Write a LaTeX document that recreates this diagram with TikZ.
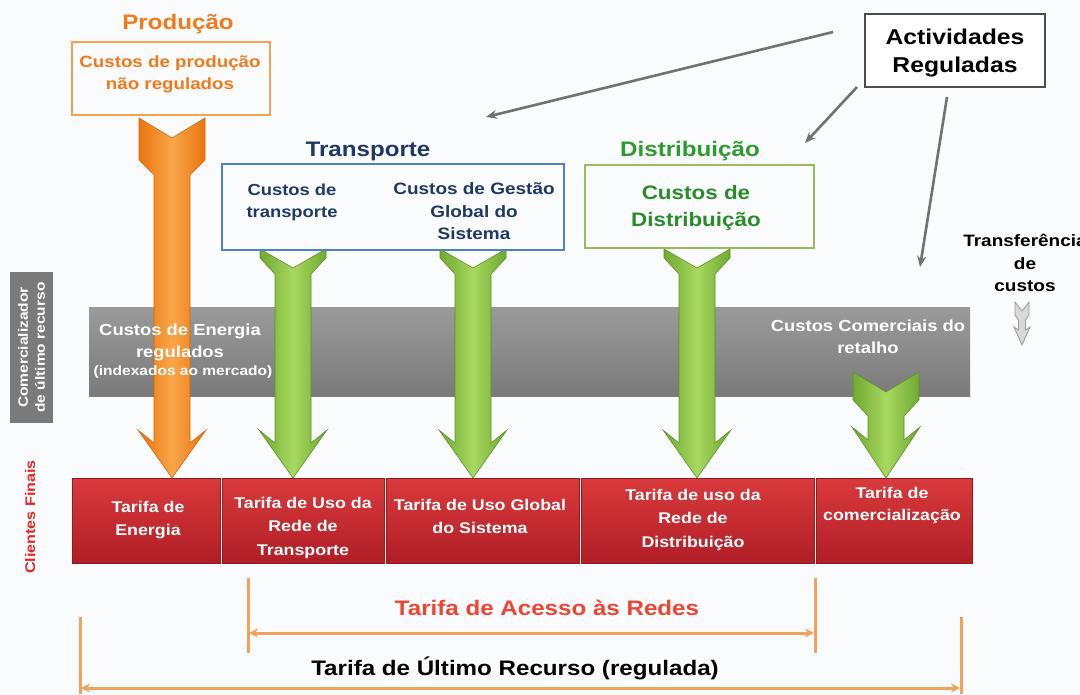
\documentclass[tikz,border=0pt]{standalone}
\usepackage{fontspec}
\setmainfont{Liberation Sans}[FakeStretch=1.15]
\usetikzlibrary{arrows.meta}
\definecolor{bgc}{HTML}{FAFBFC}
\definecolor{orT}{HTML}{F07A1A}
\definecolor{orB}{HTML}{F5A250}
\definecolor{orD}{HTML}{E8740C}
\definecolor{orL}{HTML}{F9A64A}
\definecolor{grD}{HTML}{6FA830}
\definecolor{grL}{HTML}{A8D860}
\definecolor{grT}{HTML}{2E9B2E}
\definecolor{grBox}{HTML}{9BBB59}
\definecolor{nav}{HTML}{1F3864}
\definecolor{blB}{HTML}{4F81BD}
\definecolor{rdT}{HTML}{D93A3C}
\definecolor{rdB}{HTML}{B01E26}
\definecolor{bandT}{HTML}{9A9A9A}
\definecolor{bandB}{HTML}{7A7A7A}
\definecolor{conn}{HTML}{727272}
\definecolor{brk}{HTML}{F2A25A}
\definecolor{acc}{HTML}{EE4433}
\definecolor{cfr}{HTML}{E8262A}
\newcommand\fsz[2]{\fontsize{#1}{#2}\selectfont\bfseries}
\newcommand\bigarrow[8]{%
  \shade[#1] ({#2-33},#3) -- (#2,{#3+#4}) -- ({#2+33},#3) -- ({#2+33},#5)
   -- ({#2+18},#6) -- ({#2+18},{#7+13}) -- ({#2+34},#7) -- (#2,#8)
   -- ({#2-34},#7) -- ({#2-18},{#7+13}) -- ({#2-18},#6) -- ({#2-33},#5) -- cycle;}
\begin{document}
\begin{tikzpicture}[x=1pt,y=-1pt,
  txt/.style={inner sep=0, align=center, anchor=base},
  orarrow/.style={left color=orD, right color=orD, middle color=orL, draw=orD!90!black, line width=0.6},
  grarrow/.style={left color=grD, right color=grD, middle color=grL, draw=grD!85!black, line width=0.6},
  redseg/.style={top color=rdT, bottom color=rdB, draw=rdB!85!black, line width=0.5},
  connline/.style={draw=conn, line width=2.6, -{Stealth[length=11pt,width=9pt]}},
  brkline/.style={draw=brk, line width=3},
  brkarrow/.style={draw=brk, line width=3, {Stealth[length=9pt,width=9pt]}-{Stealth[length=9pt,width=9pt]}},
  boxn/.style={inner sep=0, line width=2}
]
\fill[bgc] (0,0) rectangle (1080,695);
\useasboundingbox (0,0) rectangle (1080,695);

% left side labels
\fill[bandB] (10,272) rectangle (53,423);
\node[txt, anchor=center, rotate=90, text=white, font=\fsz{13.5}{17}] (com) at (31.5,347.5) {Comercializador\\de último recurso};
\node[txt, anchor=center, rotate=90, text=cfr, font=\fsz{14}{17}] (cf) at (30,517) {Clientes Finais};

% gray band
\shade[top color=bandT, bottom color=bandB] (89,308) rectangle (970,396);

% red bar segments
\shade[redseg] (72,478) rectangle (220,563);
\shade[redseg] (222,478) rectangle (384,563);
\shade[redseg] (386,478) rectangle (579,563);
\shade[redseg] (581,478) rectangle (814,563);
\shade[redseg] (816,478) rectangle (972,563);

% big arrows
\bigarrow{orarrow}{172}{118}{20}{160}{175}{430}{478}
\bigarrow{grarrow}{293}{249}{19}{258}{274}{430}{478}
\bigarrow{grarrow}{473}{249}{19}{258}{274}{430}{478}
\bigarrow{grarrow}{697}{249}{19}{258}{274}{430}{478}
\bigarrow{grarrow}{886}{372}{20}{400}{416}{427}{478}

% gray band texts
\node[txt, text=white, font=\fsz{16}{22}] (ce) at (180,357) {Custos de Energia\\regulados};
\node[txt, text=white, font=\fsz{13.5}{16}] (ci) at (183,375) {(indexados ao mercado)};
\node[txt, text=white, font=\fsz{16}{21}] (cc) at (868,353) {Custos Comerciais do\\retalho};

% red bar texts
\node[txt, text=white, font=\fsz{15.5}{23.5}] (te) at (148,535.5) {Tarifa de\\Energia};
\node[txt, text=white, font=\fsz{15.5}{23.5}] (tu) at (303,555) {Tarifa de Uso da\\Rede de\\Transporte};
\node[txt, text=white, font=\fsz{15.5}{23.5}] (tg) at (480,533.5) {Tarifa de Uso Global\\do Sistema};
\node[txt, text=white, font=\fsz{15.5}{23.5}] (td) at (693,547) {Tarifa de uso da\\Rede de\\Distribuição};
\node[txt, text=white, font=\fsz{15.5}{22.5}] (tc) at (892,520.5) {Tarifa de\\comercialização};

% Produção
\node[txt, text=orT, font=\fsz{21}{24}] (prod) at (178,30) {Produção};
\node[boxn, draw=orB, fill=bgc, minimum width=198, minimum height=73] (obox) at (171,78.5) {};
\node[txt, text=orT, font=\fsz{16.3}{22}] (otxt) at (170,90) {Custos de produção\\não regulados};

% Transporte
\node[txt, text=nav, font=\fsz{21}{24}] (trans) at (368,157) {Transporte};
\node[boxn, draw=blB, fill=bgc, minimum width=342, minimum height=86] (tbox) at (393,207) {};
\node[txt, text=nav, font=\fsz{16}{22}] (ct) at (292,218) {Custos de\\transporte};
\node[txt, text=nav, font=\fsz{16.5}{22.5}] (cg) at (474,240) {Custos de Gestão\\Global do\\Sistema};

% Distribuição
\node[txt, text=grT, font=\fsz{21}{24}] (dist) at (690,157) {Distribuição};
\node[boxn, draw=grBox, fill=bgc, minimum width=229, minimum height=83] (dbox) at (699.5,206.5) {};
\node[txt, text=grT!90!black, font=\fsz{19.5}{27}] (cd) at (696,227) {Custos de\\Distribuição};

% Actividades Reguladas
\node[inner sep=0, draw=black!70, line width=1.6, fill=white, minimum width=180, minimum height=73] (act) at (955,50.5) {};
\node[txt, text=black, font=\fsz{21.5}{28}] (acttxt) at (955,73) {Actividades\\Reguladas};

\coordinate (a1s) at (833,32);
\coordinate (a1e) at (486,117);
\coordinate (a2s) at (857,87);
\coordinate (a2e) at (805,143);
\coordinate (a3s) at (947,97);
\coordinate (a3e) at (920,267);
\draw[connline] (a1s) -- (a1e);
\draw[connline] (a2s) -- (a2e);
\draw[connline] (a3s) -- (a3e);

% Transferência de custos
\node[txt, text=black, font=\fsz{16.5}{22.5}] (tr) at (1025,292) {Transferência\\de\\custos};
\filldraw[fill=black!15, draw=black!40, line width=0.8]
  (1015,302) -- (1022,311) -- (1029,302) -- (1029,315) -- (1025.5,320) -- (1025.5,330)
  -- (1030,327) -- (1022,345) -- (1014,327) -- (1018.5,330) -- (1018.5,320) -- (1015,315) -- cycle;

% bottom brackets
\coordinate (u1t) at (248,578);
\coordinate (u1b) at (248,653);
\coordinate (u2t) at (815,578);
\coordinate (u2b) at (815,653);
\coordinate (ual) at (249,633);
\coordinate (uar) at (814,633);
\draw[brkline] (u1t) -- (u1b);
\draw[brkline] (u2t) -- (u2b);
\draw[brkarrow] (ual) -- (uar);
\node[txt, text=acc, font=\fsz{21}{24}] (tar) at (547,615) {Tarifa de Acesso às Redes};

\coordinate (l1t) at (80,617);
\coordinate (l1b) at (80,694);
\coordinate (l2t) at (961,617);
\coordinate (l2b) at (961,694);
\coordinate (lal) at (81,688);
\coordinate (lar) at (960,688);
\draw[brkline] (l1t) -- (l1b);
\draw[brkline] (l2t) -- (l2b);
\draw[brkarrow] (lal) -- (lar);
\node[txt, text=black, font=\fsz{21}{24}] (tur) at (515,675) {Tarifa de Último Recurso (regulada)};
\end{tikzpicture}
\end{document}
